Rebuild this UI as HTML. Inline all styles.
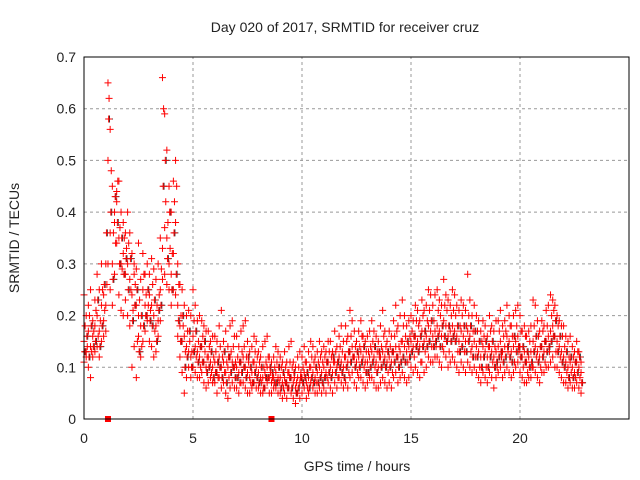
<!DOCTYPE html>
<html><head><meta charset="utf-8"><style>
body{margin:0;background:#fff}
svg{display:block;font-family:"Liberation Sans",sans-serif}
</style></head><body>
<svg id="chart" width="640" height="480"></svg>
<script>
const hourGroups = [
[15,13,17,14,16,18,20,17,22,19],[22,50,36,30,38,42,35,30,32,28],[30,27,24,28,22,20,18,25,22,20],[24,22,20,18,19,25,33,37,35,30],[28,32,38,22,18,15,16,14,13,12],[16,14,13,12,14,11,10,12,11,10],[11,9,12,10,11,9,10,12,11,10],[10,9,11,12,10,9,8,9,11,10],[9,8,8,9,10,8,7,8,9,8],[8,7,8,7,9,8,7,6,8,7],[8,9,7,8,10,9,8,9,10,9],[10,9,11,10,9,11,10,12,11,10],[12,11,13,14,12,11,12,13,12,11],[11,12,13,12,11,10,12,13,12,11],[12,11,13,14,12,13,15,14,13,14],[15,14,16,15,14,17,15,16,18,17],[16,17,18,17,16,19,18,16,17,18],[17,16,15,17,16,15,17,16,14,15],[14,13,12,14,13,12,14,13,12,13],[14,15,13,14,16,15,13,14,15,16],[14,12,13,11,12,13,15,14,13,12],[14,13,15,16,17,18,16,15,14,13],[12,11,10,11,10,9,11,10,9]];
const upperGroups = [
[24,20,22,25,19,23,28,25,30,24],[30,65,56,45,40,44,46,40,38,36],[40,36,32,30,29,34,27,32,28,30],[28,31,29,27,30,35,66,59,52,45],[40,46,50,30,26,25,22,20,21,20],[25,22,19,20,19,18,17,17,15,16],[16,15,18,21,15,17,14,18,19,16],[16,14,17,18,19,15,13,14,16,15],[13,12,14,15,16,12,11,12,14,13],[12,11,13,11,14,15,11,10,12,13],[12,14,11,13,15,14,12,13,15,13],[14,13,15,15,13,17,14,16,18,15],[18,16,21,19,17,15,17,19,16,15],[16,17,19,17,16,15,18,21,17,15],[17,16,19,22,18,20,23,20,18,19],[20,19,22,21,19,23,21,22,25,24],[22,24,25,23,22,27,24,23,22,25],[24,22,21,23,22,21,28,23,20,22],[20,19,17,19,18,16,20,18,17,19],[19,21,18,19,22,20,18,20,21,22],[20,17,18,16,17,18,23,22,19,17],[19,18,21,22,24,23,22,20,19,18],[18,16,15,16,14,13,15,13,11]];
const lowerGroups = [
[11,12,10,8,12,13,14,12,15,16],[17,30,25,22,28,34,24,21,20,23],[20,18,10,14,8,16,12,15,17,19],[15,14,12,13,16,19,27,28,26,25],[22,25,24,16,12,9,5,8,10,8],[10,9,8,8,9,7,6,7,8,7],[7,5,8,6,7,5,4,6,7,6],[6,5,7,7,6,5,5,6,7,6],[6,5,5,6,7,5,5,6,6,5],[5,4,5,4,6,5,4,3,5,4],[5,6,4,5,7,6,5,5,6,5],[6,5,7,6,5,7,6,8,7,6],[7,6,8,9,7,6,8,8,7,6],[7,8,8,7,6,6,7,8,7,6],[7,6,8,9,7,8,9,8,7,8],[10,9,10,9,8,11,9,10,12,11],[11,12,12,11,10,13,12,10,11,12],[11,10,9,11,10,9,11,10,9,10],[9,8,7,9,8,7,9,8,6,8],[9,10,8,9,10,9,8,9,10,11],[9,8,7,7,8,8,10,9,8,7],[9,9,10,10,11,12,10,10,9,8],[7,7,6,7,6,6,7,6,5]];
const midAGroups = [
[18,14,20,13,17,21,16,19,25,21],[26,62,48,36,34,46,37,29,35,33],[34,25,21,26,15,23,14,28,24,22],[21,26,17,22,24,29,60,42,38,33],[32,42,45,26,20,18,13,17,15,13],[19,12,15,10,16,13,12,14,9,12],[13,8,14,12,9,11,8,13,14,11],[12,7,13,14,12,11,7,11,13,12],[11,7,10,11,12,9,8,10,11,7],[10,6,10,9,11,10,8,7,10,9],[10,11,6,10,12,11,7,11,12,11],[12,8,13,12,11,13,8,14,13,12],[15,9,16,12,14,9,14,16,10,13],[13,14,15,10,13,12,14,16,14,9],[14,9,16,17,14,15,18,16,11,16],[17,12,19,18,11,20,13,19,21,14],[19,14,21,20,14,22,21,13,20,21],[20,13,18,20,13,18,20,13,17,12],[17,10,15,16,10,14,17,11,14,10],[17,12,16,17,13,18,16,11,18,13],[17,10,16,9,15,10,18,12,16,10],[17,11,18,13,20,21,13,18,12,16],[14,9,12,9,12,8,13,8,7]];
const midBGroups = [
[13,16,12,18,14,15,23,14,18,26],[36,58,40,27,43,38,30,35,28,31],[25,31,19,22,25,13,20,18,20,25],[19,18,23,15,21,22,45,50,31,40],[25,36,28,19,15,20,10,12,17,10],[13,17,11,14,11,15,9,10,13,8],[9,11,10,8,13,7,12,9,10,8],[8,11,9,10,8,12,10,7,9,8],[7,10,6,8,8,10,9,7,7,10],[6,9,7,6,8,6,9,5,6,8],[7,8,9,6,8,7,10,7,8,7],[8,11,9,8,12,9,11,10,9,8],[10,13,11,12,10,13,10,11,14,9],[9,10,11,14,9,13,10,11,10,13],[10,13,11,12,10,11,12,11,15,12],[13,16,14,13,16,14,17,14,15,19],[14,15,16,14,18,16,15,18,15,16],[15,18,13,14,18,13,15,18,12,17],[12,15,10,12,15,10,12,15,10,11],[12,13,11,12,14,12,11,16,13,14],[12,14,11,13,10,11,13,16,11,14],[12,15,13,14,15,16,19,13,16,11],[10,13,8,12,8,11,9,12,7]];
const gapTimes = [1.1, 8.6];
const xTicks = [0,5,10,15,20];
const yTicks = [0,0.1,0.2,0.3,0.4,0.5,0.6,0.7];

const svg = document.getElementById('chart');
const NS = 'http://www.w3.org/2000/svg';
const X0=84, X1=629, Y0=419, Y1=57;
const xs = t => X0 + t/25*(X1-X0);
const ys = v => Y0 - v/0.7*(Y0-Y1);
function mk(tag, attrs, txt){const e=document.createElementNS(NS,tag);for(const k in attrs)e.setAttribute(k,attrs[k]);if(txt!==undefined)e.textContent=txt;svg.appendChild(e);return e;}

xTicks.forEach(t=>{
  if(t>0){const g=mk('line',{x1:xs(t),x2:xs(t),y1:Y0,y2:Y1,stroke:'#999','stroke-dasharray':'3,3','stroke-width':1});
  
  }
  const l=mk('text',{x:xs(t),y:443,'text-anchor':'middle','font-size':14,fill:'#222'},String(t));
  
  
});
yTicks.forEach(v=>{
  if(v>0&&v<0.7){const g=mk('line',{x1:X0,x2:X1,y1:ys(v),y2:ys(v),stroke:'#999','stroke-dasharray':'3,3','stroke-width':1});
  
  }
  const l=mk('text',{x:76,y:ys(v)+5,'text-anchor':'end','font-size':14,fill:'#222'},String(v));
  
  
});

function plus(t,v,color){
  const x=xs(t), y=ys(v);
  const p=mk('path',{d:`M${x-3.5},${y}h7M${x},${y-3.5}v7`,stroke:color,'stroke-width':1,fill:'none'});
  
  
}
midBGroups.forEach((arr,h)=>arr.forEach((v,i)=>plus(h+i/10+0.07, v/100, '#333')));
[[hourGroups,0],[upperGroups,0],[lowerGroups,0],[midAGroups,0.05],[midBGroups,0.03]].forEach(([groups,off])=>{
  groups.forEach((arr,h)=>arr.forEach((v,i)=>plus(h+i/10+off, v/100, '#f00')));
});
gapTimes.forEach(t=>{
  const r=mk('rect',{x:xs(t)-3,y:Y0-3,width:6,height:6,fill:'#f00'});
  
  
});

const b=mk('rect',{x:X0,y:Y1,width:X1-X0,height:Y0-Y1,fill:'none',stroke:'#000','stroke-width':1});


const ti=mk('text',{x:345,y:32,'text-anchor':'middle','font-size':14,fill:'#222'},'Day 020 of 2017, SRMTID for receiver cruz');


const xl=mk('text',{x:357,y:471,'text-anchor':'middle','font-size':14,fill:'#222'},'GPS time / hours');


const yl=mk('text',{x:0,y:0,'text-anchor':'middle','font-size':14,fill:'#222',transform:'translate(19,238) rotate(-90)'},'SRMTID / TECUs');


</script>
</body></html>
